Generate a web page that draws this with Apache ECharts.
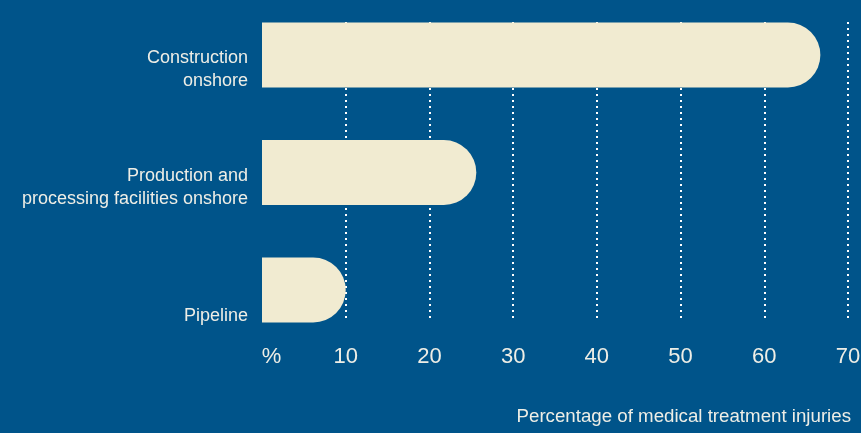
<!DOCTYPE html>
<html>
<head>
<meta charset="utf-8">
<script src="https://cdn.jsdelivr.net/npm/echarts@6/dist/echarts.min.js"></script>
<style>
html,body{margin:0;padding:0;background:#00548a;}
#c{width:861px;height:433px;}
</style>
</head>
<body>
<div id="c"></div>
<script>
const categories = ['Construction\nonshore', 'Production and\nprocessing facilities onshore', 'Pipeline'];
const values = [66.7, 25.6, 10];
const tickLabels = ['%', '10', '20', '30', '40', '50', '60', '70'];
const axisTitle = 'Percentage of medical treatment injuries';

const cream = '#f1ebd1';
const textColor = '#eeeee6';
const font = "'Liberation Sans', Arial, sans-serif";

const chart = echarts.init(document.getElementById('c'), null, {renderer: 'canvas'});
chart.setOption({
  backgroundColor: '#00548a',
  animation: false,
  title: {
    text: axisTitle,
    right: 10,
    top: 407,
    padding: 0,
    textStyle: {color: textColor, fontFamily: font, fontSize: 18.7, fontWeight: 'normal', lineHeight: 20}
  },
  grid: [
    {left: 262, right: 13, top: 55, bottom: 143, outerBoundsMode: 'none', containLabel: false},
    {left: 262, right: 13, top: 22, bottom: 111, outerBoundsMode: 'none', containLabel: false}
  ],
  xAxis: [
    {gridIndex: 0, type: 'value', min: 0, max: 70, interval: 10, show: false},
    {gridIndex: 1, type: 'value', min: 0, max: 70, interval: 10,
      axisLine: {show: false}, axisTick: {show: false},
      axisLabel: {
        color: textColor, fontFamily: font, fontSize: 22, lineHeight: 24, margin: 23,
        hideOverlap: false,
        formatter: function (v) {
          const s = tickLabels[Math.round(v / 10)];
          return v === 0 ? '{p|' + s + '}' : s;
        },
        rich: {p: {color: textColor, fontFamily: font, fontSize: 22, lineHeight: 24, padding: [0, 0, 0, 19]}}
      },
      splitLine: {show: true, showMinLine: false, showMaxLine: true,
        lineStyle: {color: '#ffffff', width: 2, type: [2, 4]}}
    }
  ],
  yAxis: [
    {gridIndex: 0, type: 'category', inverse: true, boundaryGap: false, data: categories,
      axisLine: {show: false}, axisTick: {show: false}, splitLine: {show: false},
      axisLabel: {
        color: textColor, fontFamily: font, fontSize: 18, lineHeight: 23,
        align: 'right', verticalAlign: 'bottom', margin: 14,
        padding: [0, 0, -38, 0]
      }
    },
    {gridIndex: 1, type: 'category', data: categories, show: false}
  ],
  series: [
    {type: 'bar', xAxisIndex: 0, yAxisIndex: 0, data: values, barWidth: 65, clip: false, z: 5,
      itemStyle: {color: cream, borderRadius: [0, 33, 33, 0]}, silent: true}
  ]
});
</script>
</body>
</html>
